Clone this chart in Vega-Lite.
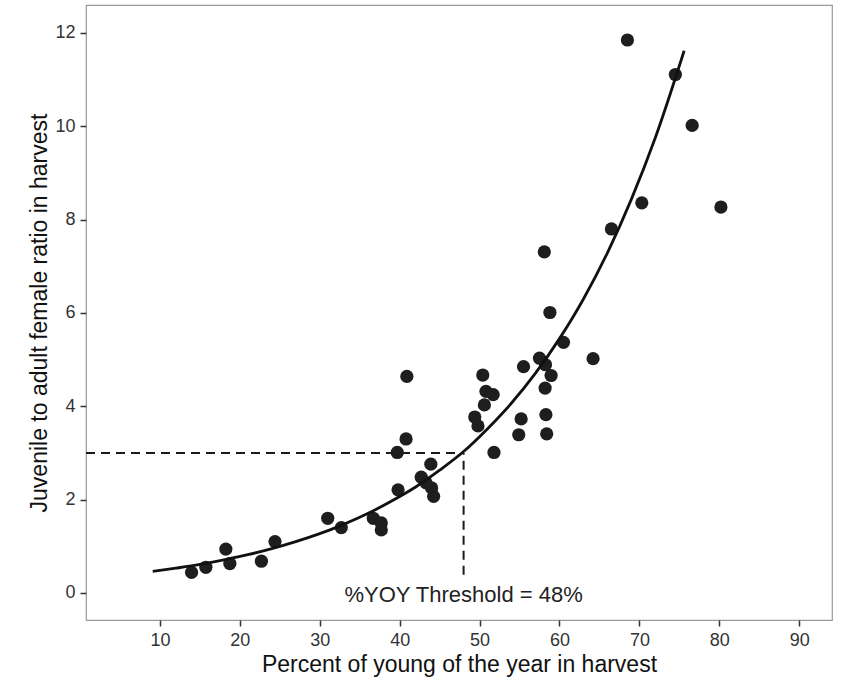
{
  "$schema": "https://vega.github.io/schema/vega-lite/v6.json",
  "width": 746,
  "height": 615,
  "autosize": {"type": "none"},
  "padding": {"left": 86, "top": 5, "right": 11, "bottom": 57},
  "background": "white",
  "config": {
    "view": {"stroke": "#9a9a9a", "strokeWidth": 1.2},
    "axis": {
      "domain": false,
      "grid": false,
      "ticks": true,
      "tickColor": "#333333",
      "tickWidth": 1.5,
      "tickSize": 6,
      "labelFont": "Liberation Sans",
      "labelFontSize": 18,
      "labelColor": "#333333",
      "labelPadding": 5,
      "titleFont": "Liberation Sans",
      "titleFontSize": 23,
      "titleFontWeight": "normal",
      "titleColor": "#111111"
    }
  },
  "encoding": {
    "x": {
      "field": "x",
      "type": "quantitative",
      "scale": {"domain": [0.75, 94.1], "nice": false, "zero": false},
      "axis": {"values": [10, 20, 30, 40, 50, 60, 70, 80, 90], "title": "Percent of young of the year in harvest", "titlePadding": 4}
    },
    "y": {
      "field": "y",
      "type": "quantitative",
      "scale": {"domain": [-0.58, 12.6], "nice": false, "zero": false},
      "axis": {"values": [0, 2, 4, 6, 8, 10, 12], "title": "Juvenile to adult female ratio in harvest", "titlePadding": 3}
    }
  },
  "layer": [
    {
      "data": {"values": [
        {"x": 0.75, "y": 3, "x2": 48, "y2": 3},
        {"x": 48, "y": 0.39, "x2": 48, "y2": 3}
      ]},
      "mark": {"type": "rule", "strokeDash": [9, 6], "strokeWidth": 2, "color": "#1a1a1a"},
      "encoding": {
        "x2": {"field": "x2"},
        "y2": {"field": "y2"}
      }
    },
    {
      "data": {"values": [
        {"x": 13.96, "y": 0.44}, {"x": 15.75, "y": 0.55}, {"x": 18.25, "y": 0.94},
        {"x": 18.75, "y": 0.63}, {"x": 22.7, "y": 0.68}, {"x": 24.4, "y": 1.1},
        {"x": 31.0, "y": 1.6}, {"x": 32.7, "y": 1.4}, {"x": 36.7, "y": 1.6},
        {"x": 37.7, "y": 1.5}, {"x": 37.7, "y": 1.35}, {"x": 39.7, "y": 3.01},
        {"x": 39.8, "y": 2.21}, {"x": 40.8, "y": 3.3}, {"x": 40.9, "y": 4.64},
        {"x": 42.7, "y": 2.48}, {"x": 43.3, "y": 2.36}, {"x": 43.9, "y": 2.76},
        {"x": 44.0, "y": 2.25}, {"x": 44.25, "y": 2.07}, {"x": 49.4, "y": 3.77},
        {"x": 49.8, "y": 3.58}, {"x": 50.4, "y": 4.67}, {"x": 50.6, "y": 4.03},
        {"x": 50.8, "y": 4.32}, {"x": 51.7, "y": 4.25}, {"x": 51.8, "y": 3.01},
        {"x": 54.9, "y": 3.39}, {"x": 55.2, "y": 3.73}, {"x": 55.5, "y": 4.85},
        {"x": 57.5, "y": 5.03}, {"x": 58.1, "y": 7.31}, {"x": 58.2, "y": 4.39},
        {"x": 58.25, "y": 4.89}, {"x": 58.3, "y": 3.82}, {"x": 58.4, "y": 3.41},
        {"x": 58.8, "y": 6.01}, {"x": 58.95, "y": 4.66}, {"x": 60.5, "y": 5.37},
        {"x": 64.2, "y": 5.02}, {"x": 66.5, "y": 7.8}, {"x": 68.5, "y": 11.85},
        {"x": 70.3, "y": 8.36}, {"x": 74.5, "y": 11.11}, {"x": 76.6, "y": 10.02},
        {"x": 80.2, "y": 8.27}
      ]},
      "mark": {"type": "circle", "size": 175, "color": "#1e1e1e", "opacity": 1}
    },
    {
      "data": {"values": [
        {"x": 9.1, "y": 0.46}, {"x": 12, "y": 0.53}, {"x": 15, "y": 0.61},
        {"x": 18, "y": 0.71}, {"x": 21, "y": 0.82}, {"x": 24, "y": 0.95},
        {"x": 27, "y": 1.1}, {"x": 30, "y": 1.27}, {"x": 33, "y": 1.47},
        {"x": 36, "y": 1.7}, {"x": 39, "y": 1.97}, {"x": 42, "y": 2.27},
        {"x": 45, "y": 2.63}, {"x": 48, "y": 3.03}, {"x": 51, "y": 3.52},
        {"x": 54, "y": 4.07}, {"x": 57, "y": 4.71}, {"x": 60, "y": 5.45},
        {"x": 63, "y": 6.3}, {"x": 66, "y": 7.29}, {"x": 69, "y": 8.44},
        {"x": 72, "y": 9.76}, {"x": 75.6, "y": 11.62}
      ]},
      "mark": {"type": "line", "interpolate": "monotone", "strokeWidth": 2.8, "color": "#111111"},
      "encoding": {}
    },
    {
      "data": {"values": [{"x": 48, "y": -0.19, "label": "%YOY Threshold = 48%"}]},
      "mark": {"type": "text", "font": "Liberation Sans", "fontSize": 22, "baseline": "alphabetic", "align": "center", "color": "#222222"},
      "encoding": {"text": {"field": "label"}}
    }
  ]
}
